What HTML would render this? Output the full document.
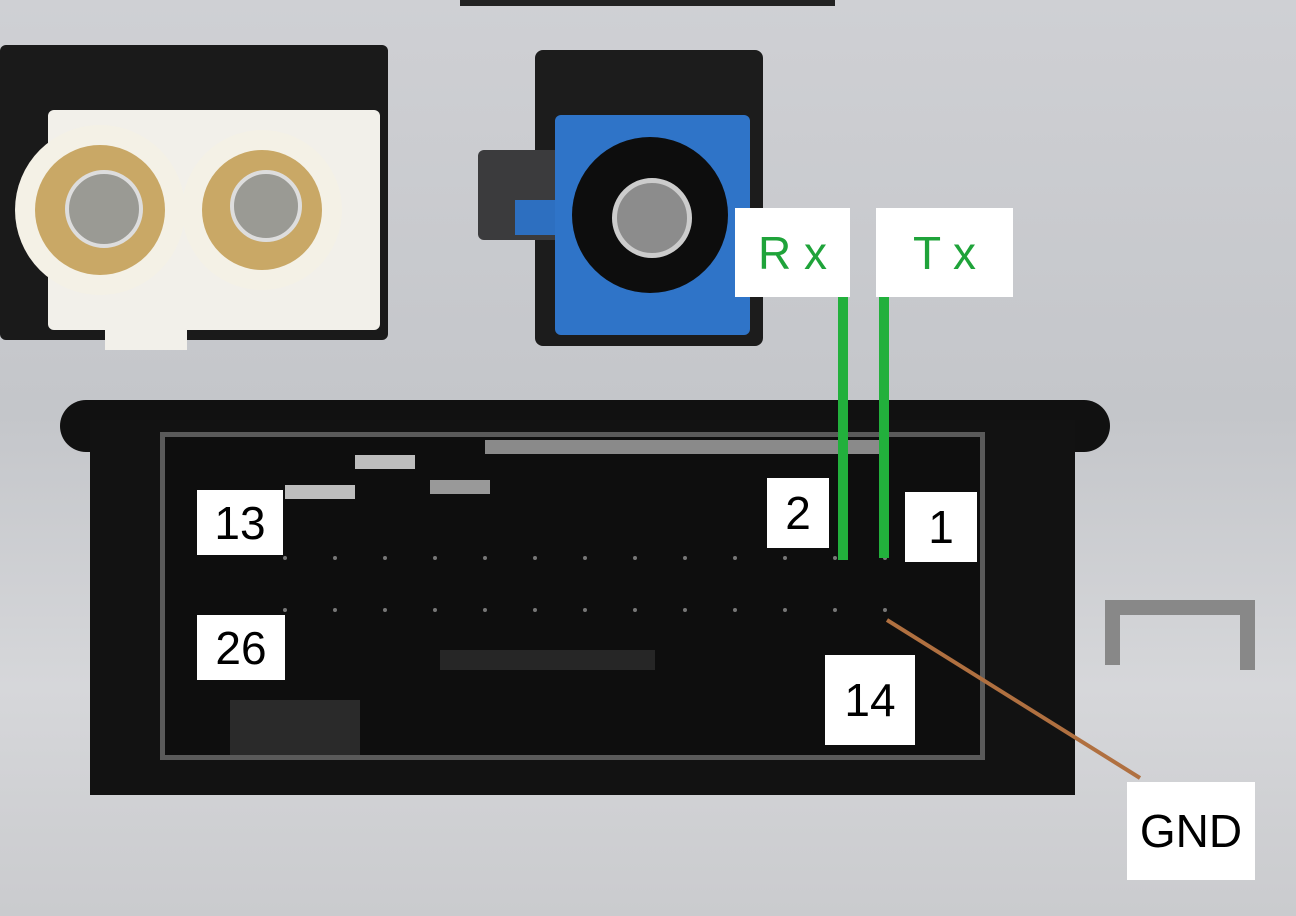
<!DOCTYPE html>
<html><head><meta charset="utf-8"><style>
html,body{margin:0;padding:0}
body{width:1296px;height:916px;position:relative;overflow:hidden;background:linear-gradient(180deg,#cfd0d4 0%,#c4c6ca 45%,#d6d7da 75%,#cacbce 100%);font-family:"Liberation Sans",sans-serif}
.a{position:absolute}
.lbl{position:absolute;background:#fff;color:#000;font-size:46px;display:flex;align-items:center;justify-content:center}
.g{color:#1fa33a}
</style></head><body>
<div class="a" style="left:460px;top:0;width:375px;height:6px;background:#222"></div>
<!-- left connector -->
<div class="a" style="left:0;top:45px;width:388px;height:295px;background:#1a1a1a;border-radius:6px"></div>
<div class="a" style="left:48px;top:110px;width:332px;height:220px;background:#f2f0ea;border-radius:6px"></div>
<div class="a" style="left:105px;top:320px;width:82px;height:30px;background:#f2f0ea"></div>
<div class="a" style="left:15px;top:125px;width:170px;height:170px;border-radius:50%;background:#f4f1e6"></div>
<div class="a" style="left:35px;top:145px;width:130px;height:130px;border-radius:50%;background:#c9a866"></div>
<div class="a" style="left:65px;top:170px;width:70px;height:70px;border-radius:50%;background:#9a9a94;border:4px solid #ddd"></div>
<div class="a" style="left:182px;top:130px;width:160px;height:160px;border-radius:50%;background:#f4f1e6"></div>
<div class="a" style="left:202px;top:150px;width:120px;height:120px;border-radius:50%;background:#c9a866"></div>
<div class="a" style="left:230px;top:170px;width:64px;height:64px;border-radius:50%;background:#9a9a94;border:4px solid #ddd"></div>
<!-- blue connector -->
<div class="a" style="left:535px;top:50px;width:228px;height:296px;background:#1c1c1c;border-radius:8px"></div>
<div class="a" style="left:478px;top:150px;width:85px;height:90px;background:#3b3b3d;border-radius:6px"></div>
<div class="a" style="left:515px;top:200px;width:50px;height:35px;background:#2d6fc0"></div>
<div class="a" style="left:555px;top:115px;width:195px;height:220px;background:#2f74c8;border-radius:6px"></div>
<div class="a" style="left:572px;top:137px;width:156px;height:156px;border-radius:50%;background:#0d0d0d"></div>
<div class="a" style="left:612px;top:178px;width:70px;height:70px;border-radius:50%;background:#8c8c8c;border:5px solid #ccc"></div>
<!-- main connector -->
<div class="a" style="left:60px;top:400px;width:1050px;height:52px;background:#111;border-radius:26px"></div>
<div class="a" style="left:90px;top:420px;width:985px;height:375px;background:#121212"></div>
<div class="a" style="left:160px;top:432px;width:825px;height:328px;border:5px solid #5a5a5a;box-sizing:border-box;background:#0e0e0e"></div>
<div class="a" style="left:285px;top:485px;width:70px;height:14px;background:#bdbdbd"></div>
<div class="a" style="left:355px;top:455px;width:60px;height:14px;background:#bdbdbd"></div>
<div class="a" style="left:430px;top:480px;width:60px;height:14px;background:#999"></div>
<div class="a" style="left:485px;top:440px;width:400px;height:14px;background:#8a8a8a"></div>
<div class="a" style="left:230px;top:700px;width:130px;height:55px;background:#2a2a2a"></div>
<div class="a" style="left:440px;top:650px;width:215px;height:20px;background:#262626"></div>
<!-- pins -->
<svg class="a" style="left:0;top:0" width="1296" height="916">
<g fill="#777">
<circle cx="285" cy="558" r="2"/><circle cx="335" cy="558" r="2"/><circle cx="385" cy="558" r="2"/><circle cx="435" cy="558" r="2"/><circle cx="485" cy="558" r="2"/><circle cx="535" cy="558" r="2"/><circle cx="585" cy="558" r="2"/><circle cx="635" cy="558" r="2"/><circle cx="685" cy="558" r="2"/><circle cx="735" cy="558" r="2"/><circle cx="785" cy="558" r="2"/><circle cx="835" cy="558" r="2"/><circle cx="885" cy="558" r="2"/>
<circle cx="285" cy="610" r="2"/><circle cx="335" cy="610" r="2"/><circle cx="385" cy="610" r="2"/><circle cx="435" cy="610" r="2"/><circle cx="485" cy="610" r="2"/><circle cx="535" cy="610" r="2"/><circle cx="585" cy="610" r="2"/><circle cx="635" cy="610" r="2"/><circle cx="685" cy="610" r="2"/><circle cx="735" cy="610" r="2"/><circle cx="785" cy="610" r="2"/><circle cx="835" cy="610" r="2"/><circle cx="885" cy="610" r="2"/>
</g>
<line x1="843" y1="295" x2="843" y2="560" stroke="#22b03c" stroke-width="10"/>
<line x1="884" y1="295" x2="884" y2="558" stroke="#22b03c" stroke-width="10"/>
<line x1="887" y1="620" x2="1140" y2="778" stroke="#b07040" stroke-width="4"/>
<path d="M1105 665 L1105 600 L1255 600 L1255 670 L1240 670 L1240 615 L1120 615 L1120 665 Z" fill="#888"/>
</svg>
<div class="lbl" style="left:197px;top:490px;width:86px;height:65px">13</div>
<div class="lbl" style="left:767px;top:478px;width:62px;height:70px">2</div>
<div class="lbl" style="left:905px;top:492px;width:72px;height:70px">1</div>
<div class="lbl" style="left:197px;top:615px;width:88px;height:65px">26</div>
<div class="lbl" style="left:825px;top:655px;width:90px;height:90px">14</div>
<div class="lbl" style="left:1127px;top:782px;width:128px;height:98px">GND</div>
<div class="lbl g" style="left:735px;top:208px;width:115px;height:89px">R x</div>
<div class="lbl g" style="left:876px;top:208px;width:137px;height:89px">T x</div>
</body></html>
